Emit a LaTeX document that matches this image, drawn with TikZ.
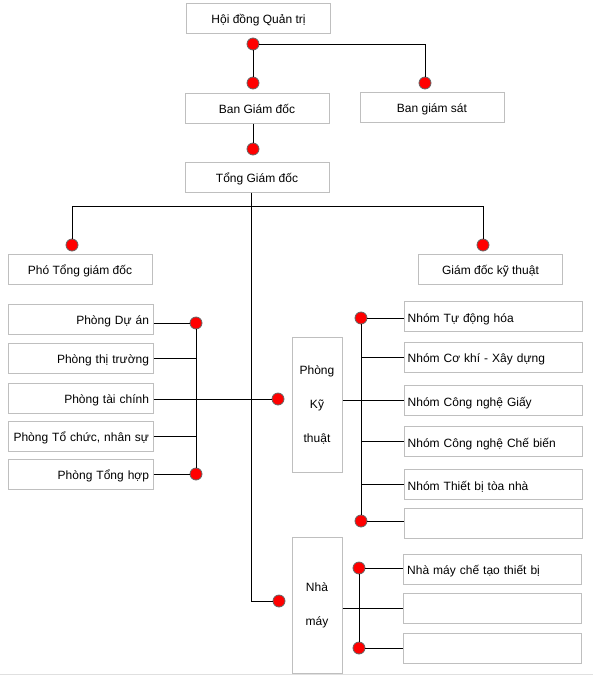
\documentclass[tikz,border=0pt]{standalone}
\usepackage{fontspec}
\setmainfont{Liberation Sans}
\usepackage{tikz}

\tikzset{
  khung/.style={draw=black!25,line width=0.75pt,fill=white,minimum height=22.5pt,inner sep=0pt,font=\fontsize{9}{11}\selectfont},
  mot/.style={khung,text height=9.5pt,text depth=1pt},
  tren/.style={mot,minimum width=108pt,align=center},
  phongtrai/.style={mot,text width=102.75pt,inner xsep=3pt,align=right},
  nhomphai/.style={mot,text width=128pt,inner xsep=2.75pt,align=left},
  cot/.style={khung,minimum width=37.5pt,align=center,font=\fontsize{9}{25.5}\selectfont},
  cham/.style={circle,fill=red,draw=black!60,line width=0.6pt,minimum size=9pt,inner sep=0pt},
  noi/.style={line width=0.75pt}
}

\begin{document}
\begin{tikzpicture}[x=0.75pt,y=-0.75pt]
\useasboundingbox (0,0) rectangle (593,676);
\draw[black!12,line width=0.75pt] (0,674.5) -- (593,674.5);
%\node at (296,10) {};
\node[tren] (hdqt) at (258.5,18) {Hội đồng Quản trị};
\node[tren] (bgd) at (257,108) {Ban Giám đốc};
\node[tren] (bgs) at (432,107) {Ban giám sát};
\node[tren] (tgd) at (257,177) {Tổng Giám đốc};
\node[tren] (ptgd) at (80,269) {Phó Tổng giám đốc};
\node[tren] (gdkt) at (490.5,269) {Giám đốc kỹ thuật};
\node[phongtrai] (pda) at (80.5,319) {Phòng Dự án};
\node[phongtrai] (ptt) at (80.5,358) {Phòng thị trường};
\node[phongtrai] (ptc) at (80.5,398) {Phòng tài chính};
\node[phongtrai] (ptcns) at (80.5,436) {Phòng Tổ chức, nhân sự};
\node[phongtrai] (pth) at (80.5,474) {Phòng Tổng hợp};
\node[cot,minimum height=101.25pt] (pkt) at (317,404.5) {Phòng\\Kỹ\\thuật};
\node[cot,minimum height=102pt] (nm) at (317,605) {Nhà\\máy};
\node[nhomphai] (ntdh) at (493,316.5) {Nhóm Tự động hóa};
\node[nhomphai] (nckxd) at (493,357) {Nhóm Cơ khí - Xây dựng};
\node[nhomphai] (ncng) at (493,400.5) {Nhóm Công nghệ Giấy};
\node[nhomphai] (ncncb) at (493,441.5) {Nhóm Công nghệ Chế biến};
\node[nhomphai] (ntbtn) at (493,484.5) {Nhóm Thiết bị tòa nhà};
\node[nhomphai] (nrong1) at (493,523) {};
\node[nhomphai] (nmct) at (492.5,569) {Nhà máy chế tạo thiết bị};
\node[nhomphai] (nrong2) at (492.5,608) {};
\node[nhomphai] (nrong3) at (492.5,648) {};

\node[cham] (d1) at (253,44) {};
\node[cham] (d2) at (253,83) {};
\node[cham] (d3) at (425,83) {};
\node[cham] (d4) at (253,149) {};
\node[cham] (d5) at (72,245) {};
\node[cham] (d6) at (483,245) {};
\node[cham] (d7) at (196,323) {};
\node[cham] (d8) at (196,474) {};
\node[cham] (d9) at (278,399) {};
\node[cham] (d10) at (361,318) {};
\node[cham] (d11) at (361,521) {};
\node[cham] (d12) at (279,601) {};
\node[cham] (d13) at (359,568) {};
\node[cham] (d14) at (359,648) {};
\coordinate (truc) at (251.5,206.5);

\draw[noi] (d1) -- (d2);
\draw[noi] (d1) -| (d3);
\draw[noi] (bgd.south -| d4) -- (d4);
\draw[noi] (truc |- tgd.south) |- (d12);
\draw[noi] (d5) |- (truc) -| (d6);
\draw[noi] (d7) -- (d8);
\draw[noi] (pda.east |- d7) -- (d7);
\draw[noi] (ptt.east) -- (d7 |- ptt);
\draw[noi] (ptc.east |- d9) -- (d9);
\draw[noi] (ptcns.east) -- (d7 |- ptcns);
\draw[noi] (pth.east |- d8) -- (d8);
\draw[noi] (d10) -- (d11);
\draw[noi] (d10) -- (ntdh.west |- d10);
\draw[noi] (d10 |- nckxd) -- (nckxd.west);
\draw[noi] (pkt.east |- ncng) -- (ncng.west);
\draw[noi] (d10 |- ncncb) -- (ncncb.west);
\draw[noi] (d10 |- ntbtn) -- (ntbtn.west);
\draw[noi] (d11) -- (nrong1.west |- d11);
\draw[noi] (d13) -- (d14);
\draw[noi] (d13) -- (nmct.west |- d13);
\draw[noi] (nm.east |- nrong2) -- (nrong2.west);
\draw[noi] (d14) -- (nrong3.west |- d14);
\end{tikzpicture}
\end{document}
